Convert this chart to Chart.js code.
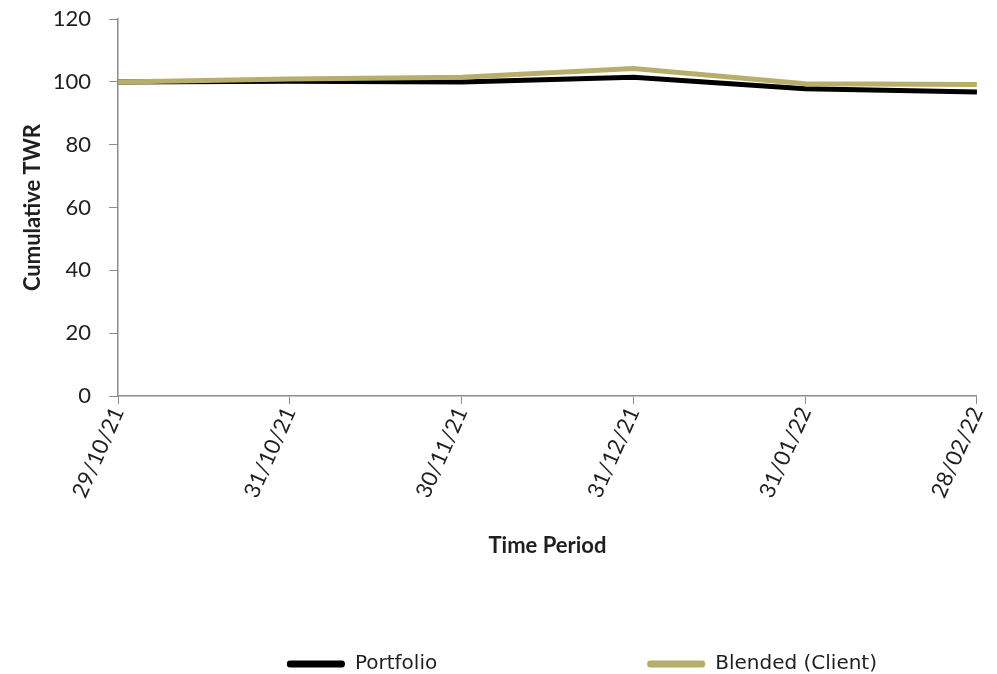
<!DOCTYPE html>
<html>
<head>
<meta charset="utf-8">
<script src="https://cdn.jsdelivr.net/npm/chart.js@4"></script>
<style>
  html, body { margin: 0; padding: 0; background: #fff; }
  #wrap { width: 997px; height: 674px; }
</style>
</head>
<body>
<div id="wrap"><canvas id="twr_chart"></canvas></div>
<script>
const periods = ['29/10/21', '31/10/21', '30/11/21', '31/12/21', '31/01/22', '28/02/22'];
const seriesNames = ['Portfolio', 'Blended (Client)'];
const portfolio = [100, 100.2, 100.0, 101.5, 97.8, 96.8];
const blended = [100, 100.9, 101.5, 104.3, 99.4, 99.2];
const yTicks = [0, 20, 40, 60, 80, 100, 120];

const axisGrey = '#8c8c8c';
const textColor = '#1f1f1f';

const ctx = document.getElementById('twr_chart').getContext('2d');
const twrChart = new Chart(ctx, {
    type: 'line',
    data: {
        labels: periods,
        datasets: [
            {
                label: seriesNames[0],
                data: portfolio,
                borderColor: '#000000',
                backgroundColor: '#000000',
                borderWidth: 5,
                pointRadius: 0,
                tension: 0,
                order: 2
            },
            {
                label: seriesNames[1],
                data: blended,
                borderColor: '#b8ae6c',
                backgroundColor: '#b8ae6c',
                borderWidth: 5,
                pointRadius: 0,
                tension: 0,
                order: 1
            }
        ]
    },
    options: {
        responsive: true,
        maintainAspectRatio: false,
        animation: false,
        layout: {
            padding: { top: 0, right: 0, bottom: -10, left: 0 }
        },
        plugins: {
            tooltip: { enabled: false },
            legend: {
                display: true,
                position: 'bottom',
                align: 'end',
                labels: {
                    boxWidth: 58,
                    boxHeight: 7,
                    padding: 10,
                    color: textColor,
                    useBorderRadius: true,
                    borderRadius: 3,
                    font: { family: 'DejaVu Sans', size: 20 },
                    sort: (a, b) => a.datasetIndex - b.datasetIndex,
                    generateLabels: function(chart) {
                        const items = Chart.defaults.plugins.legend.labels.generateLabels(chart);
                        items.forEach(item => {
                            item.lineWidth = 0;
                            // spacing between the two entries, like the original
                            if (item.datasetIndex === 0) item.text = item.text + '\u2003'.repeat(10);
                            else item.text = item.text + '\u2003'.repeat(5) + '\u2002';
                        });
                        return items;
                    }
                }
            }
        },
        scales: {
            x: {
                offset: false,
                grid: {
                    display: true,
                    drawOnChartArea: false,
                    drawTicks: true,
                    tickLength: 8,
                    color: axisGrey
                },
                border: { color: axisGrey, width: 1.5 },
                ticks: {
                    color: textColor,
                    minRotation: 66,
                    maxRotation: 66,
                    padding: 0,
                    font: { family: 'Lato', size: 22, lineHeight: 1.0 }
                },
                title: {
                    display: true,
                    text: 'Time Period',
                    color: textColor,
                    padding: { top: 0, bottom: 85 },
                    font: { family: 'Lato', size: 22, weight: 'bold' }
                },
                afterFit: function(scale) {
                    scale.height = 248;
                }
            },
            y: {
                min: 0,
                max: 120,
                afterBuildTicks: function(scale) {
                    scale.ticks = yTicks.map(v => ({ value: v }));
                },
                grid: {
                    display: true,
                    drawOnChartArea: false,
                    drawTicks: true,
                    tickLength: 9,
                    color: axisGrey
                },
                border: { color: axisGrey, width: 1.5 },
                ticks: {
                    color: textColor,
                    padding: 7,
                    font: { family: 'Lato', size: 22, lineHeight: 1.1 },
                    callback: function(value) {
                        return value + '\u2002';
                    }
                },
                title: {
                    display: true,
                    text: 'Cumulative TWR',
                    color: textColor,
                    padding: { top: 20, bottom: 0 },
                    font: { family: 'Lato', size: 22, weight: 'bold' }
                },
                afterFit: function(scale) {
                    scale.width = 118;
                }
            }
        }
    }
});
</script>
</body>
</html>
